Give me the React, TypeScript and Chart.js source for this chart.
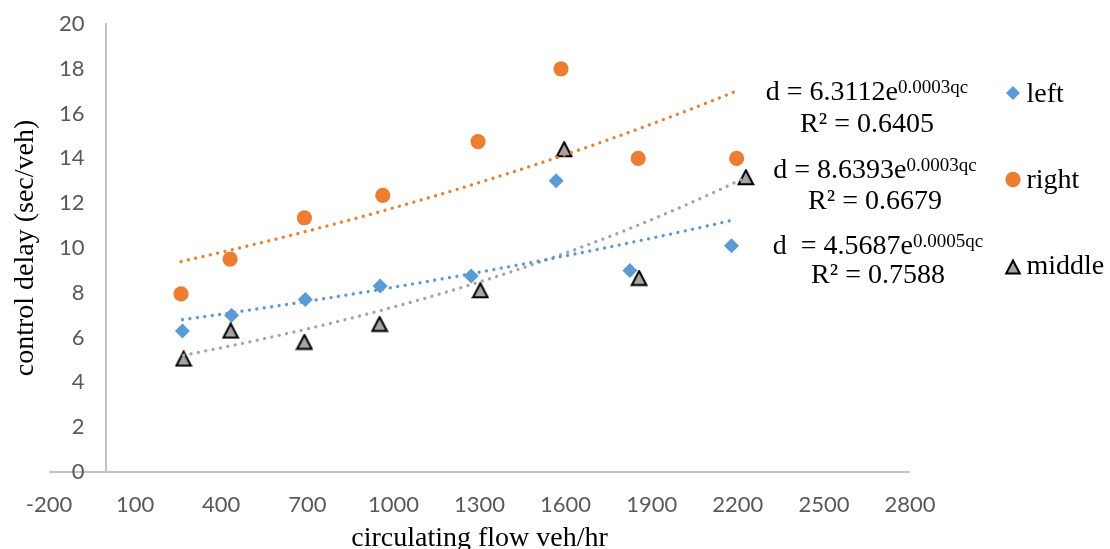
import React, { useEffect, useRef } from "react";
import { Chart, registerables } from "chart.js";

Chart.register(...registerables);

// ---- data ----
const leftFlow = [265, 436, 693, 954, 1271, 1567, 1824, 2178];
const leftDelay = [6.3, 7.0, 7.7, 8.3, 8.75, 13.0, 9.0, 10.1];

const rightFlow = [260, 431, 690, 963, 1295, 1584, 1853, 2196];
const rightDelay = [7.95, 9.5, 11.35, 12.35, 14.75, 18.0, 14.0, 14.0];

const middleFlow = [269, 433, 690, 952, 1303, 1595, 1856, 2228];
const middleDelay = [5.05, 6.3, 5.8, 6.6, 8.1, 14.4, 8.65, 13.15];

const seriesNames = ["left", "right", "middle"];
const equationMain = ["d = 6.3112e", "d = 8.6393e", "d  = 4.5687e"];
const equationExp = ["0.0003qc", "0.0003qc", "0.0005qc"];
const rSquaredText = ["R\u00B2 = 0.6405", "R\u00B2 = 0.6679", "R\u00B2 = 0.7588"];

const xMin = -200;
const xMax = 2800;
const xStep = 300;
const yMin = 0;
const yMax = 20;
const yStep = 2;

const xTitle = "circulating flow veh/hr";
const yTitle = "control delay (sec/veh)";

// ---- styles ----
const LEFT_COLOR = "#5B9BD5";
const RIGHT_COLOR = "#ED7D31";
const MIDDLE_COLOR = "#A5A5A5";
const AXIS_COLOR = "#C4C4C4";
const TICK_COLOR = "#595959";
const SERIF = '"Liberation Serif", "Times New Roman", serif';
const SANS = 'Lato, "Open Sans", sans-serif';

function fitExp(xs: number[], ys: number[]) {
  const n = xs.length;
  const ly = ys.map((v) => Math.log(v));
  const mx = xs.reduce((s, v) => s + v, 0) / n;
  const my = ly.reduce((s, v) => s + v, 0) / n;
  let sxy = 0;
  let sxx = 0;
  for (let i = 0; i < n; i++) {
    sxy += (xs[i] - mx) * (ly[i] - my);
    sxx += (xs[i] - mx) * (xs[i] - mx);
  }
  const b = sxy / sxx;
  const a = Math.exp(my - b * mx);
  return { a, b };
}

function trendPoints(xs: number[], ys: number[]) {
  const { a, b } = fitExp(xs, ys);
  const lo = Math.min(...xs);
  const hi = Math.max(...xs);
  const pts: { x: number; y: number }[] = [];
  const steps = 80;
  for (let i = 0; i <= steps; i++) {
    const x = lo + ((hi - lo) * i) / steps;
    pts.push({ x, y: a * Math.exp(b * x) });
  }
  return pts;
}

function toPoints(xs: number[], ys: number[]) {
  return xs.map((x, i) => ({ x, y: ys[i] }));
}

function makeTriangle(): HTMLCanvasElement {
  const c = document.createElement("canvas");
  c.width = 18;
  c.height = 17;
  const g = c.getContext("2d")!;
  g.beginPath();
  g.moveTo(9, 1.3);
  g.lineTo(16.3, 15.2);
  g.lineTo(1.7, 15.2);
  g.closePath();
  g.fillStyle = MIDDLE_COLOR;
  g.fill();
  g.lineWidth = 2;
  g.strokeStyle = "#000";
  g.lineJoin = "miter";
  g.stroke();
  return c;
}

const axisLinePlugin = {
  id: "xAxisLine",
  beforeDatasetsDraw(chart: any) {
    const ctx: CanvasRenderingContext2D = chart.ctx;
    const xs = chart.scales.x;
    const ys = chart.scales.y;
    const y0 = ys.getPixelForValue(yMin);
    ctx.save();
    ctx.strokeStyle = AXIS_COLOR;
    ctx.lineWidth = 2;
    ctx.beginPath();
    ctx.moveTo(xs.getPixelForValue(xMin), y0);
    ctx.lineTo(xs.getPixelForValue(xMax), y0);
    ctx.stroke();
    ctx.restore();
  },
};

const annotationPlugin = {
  id: "textAnnotations",
  afterDraw(chart: any) {
    const ctx: CanvasRenderingContext2D = chart.ctx;
    const ca = chart.chartArea;
    const xs = chart.scales.x;
    const ys = chart.scales.y;
    ctx.save();

    // y tick labels, placed left of the vertical axis (which sits at x = 0)
    const axisX = xs.getPixelForValue(0);
    ctx.fillStyle = TICK_COLOR;
    ctx.font = `22px ${SANS}`;
    ctx.textAlign = "right";
    ctx.textBaseline = "middle";
    for (const t of ys.ticks) {
      ctx.fillText(String(t.value), axisX - 22, ys.getPixelForValue(t.value));
    }

    // axis titles
    ctx.fillStyle = "#000";
    ctx.font = `28px ${SERIF}`;
    ctx.textAlign = "center";
    ctx.textBaseline = "alphabetic";
    ctx.fillText(xTitle, (ca.left + ca.right) / 2, 546);
    ctx.save();
    ctx.translate(33, (ca.top + ca.bottom) / 2);
    ctx.rotate(-Math.PI / 2);
    ctx.fillText(yTitle, 0, 0);
    ctx.restore();

    // trend equations
    const eqCenters = [867, 875, 878];
    const eqBase = [100, 178, 254];
    const r2Base = [131.5, 209, 283];
    for (let i = 0; i < 3; i++) {
      ctx.font = `28px ${SERIF}`;
      const w1 = ctx.measureText(equationMain[i]).width;
      ctx.font = `19px ${SERIF}`;
      const w2 = ctx.measureText(equationExp[i]).width;
      const start = eqCenters[i] - (w1 + w2) / 2;
      ctx.textAlign = "left";
      ctx.font = `28px ${SERIF}`;
      ctx.fillText(equationMain[i], start, eqBase[i]);
      ctx.font = `19px ${SERIF}`;
      ctx.fillText(equationExp[i], start + w1, eqBase[i] - 7);
      ctx.font = `28px ${SERIF}`;
      ctx.textAlign = "center";
      ctx.fillText(rSquaredText[i], eqCenters[i], r2Base[i]);
    }

    // legend
    const mx = 1013;
    const my = [93, 179.5, 267];
    const tb = [102, 188, 274];
    ctx.beginPath();
    ctx.moveTo(mx - 7, my[0]);
    ctx.lineTo(mx, my[0] - 7);
    ctx.lineTo(mx + 7, my[0]);
    ctx.lineTo(mx, my[0] + 7);
    ctx.closePath();
    ctx.fillStyle = LEFT_COLOR;
    ctx.fill();
    ctx.beginPath();
    ctx.arc(mx, my[1], 7.7, 0, Math.PI * 2);
    ctx.fillStyle = RIGHT_COLOR;
    ctx.fill();
    ctx.beginPath();
    ctx.moveTo(mx, my[2] - 6.5);
    ctx.lineTo(mx + 6.8, my[2] + 6.5);
    ctx.lineTo(mx - 6.8, my[2] + 6.5);
    ctx.closePath();
    ctx.fillStyle = MIDDLE_COLOR;
    ctx.fill();
    ctx.lineWidth = 2;
    ctx.strokeStyle = "#000";
    ctx.stroke();

    ctx.fillStyle = "#000";
    ctx.font = `28px ${SERIF}`;
    ctx.textAlign = "left";
    for (let i = 0; i < 3; i++) {
      ctx.fillText(seriesNames[i], 1026.5, tb[i]);
    }
    ctx.restore();
  },
};

export default function App() {
  const ref = useRef<HTMLCanvasElement>(null);

  useEffect(() => {
    if (!ref.current) return;
    const tri = makeTriangle();
    const dotted = {
      showLine: true,
      pointRadius: 0,
      pointHoverRadius: 0,
      borderWidth: 3.3,
      borderDash: [0.01, 7.5],
      borderCapStyle: "round" as const,
      fill: false,
      tension: 0,
      order: 0,
    };
    const chart = new Chart(ref.current, {
      type: "scatter",
      data: {
        datasets: [
          {
            ...dotted,
            label: "left trend",
            data: trendPoints(leftFlow, leftDelay),
            borderColor: LEFT_COLOR,
          },
          {
            ...dotted,
            label: "right trend",
            data: trendPoints(rightFlow, rightDelay),
            borderColor: RIGHT_COLOR,
          },
          {
            ...dotted,
            label: "middle trend",
            data: trendPoints(middleFlow, middleDelay),
            borderColor: MIDDLE_COLOR,
          },
          {
            label: seriesNames[2],
            data: toPoints(middleFlow, middleDelay),
            pointStyle: tri as any,
            pointRadius: 8,
            order: 1,
          },
          {
            label: seriesNames[1],
            data: toPoints(rightFlow, rightDelay),
            pointStyle: "circle",
            pointRadius: 7.6,
            pointBorderWidth: 0,
            backgroundColor: RIGHT_COLOR,
            borderColor: RIGHT_COLOR,
            order: 2,
          },
          {
            label: seriesNames[0],
            data: toPoints(leftFlow, leftDelay),
            pointStyle: "rectRot",
            pointRadius: 7.5,
            pointBorderWidth: 0,
            backgroundColor: LEFT_COLOR,
            borderColor: LEFT_COLOR,
            order: 3,
          },
        ] as any,
      },
      options: {
        responsive: false,
        animation: false,
        layout: { padding: { left: 49, right: 200, top: 24, bottom: 0 } },
        plugins: {
          legend: { display: false },
          tooltip: { enabled: false },
        },
        events: [],
        scales: {
          x: {
            type: "linear",
            position: "bottom",
            min: xMin,
            max: xMax,
            grid: { display: false, drawTicks: false },
            border: { display: false },
            ticks: {
              stepSize: xStep,
              autoSkip: false,
              maxRotation: 0,
              padding: 20,
              color: TICK_COLOR,
              font: { family: SANS, size: 22 },
              callback: (v: any) => String(v),
            },
            afterFit: (s: any) => {
              s.height = 77;
            },
          },
          y: {
            type: "linear",
            axis: "y",
            position: { x: 0 } as any,
            min: yMin,
            max: yMax,
            grid: { display: false, drawTicks: false },
            border: { display: true, color: AXIS_COLOR, width: 2 },
            ticks: {
              display: false,
              stepSize: yStep,
            },
          },
        } as any,
      },
      plugins: [axisLinePlugin, annotationPlugin],
    });
    return () => chart.destroy();
  }, []);

  return (
    <div
      style={{
        position: "absolute",
        left: 0,
        top: 0,
        width: 1110,
        height: 549,
        background: "#fff",
        overflow: "hidden",
      }}
    >
      <canvas
        ref={ref}
        width={1110}
        height={549}
        style={{ display: "block", width: 1110, height: 549 }}
      />
    </div>
  );
}
